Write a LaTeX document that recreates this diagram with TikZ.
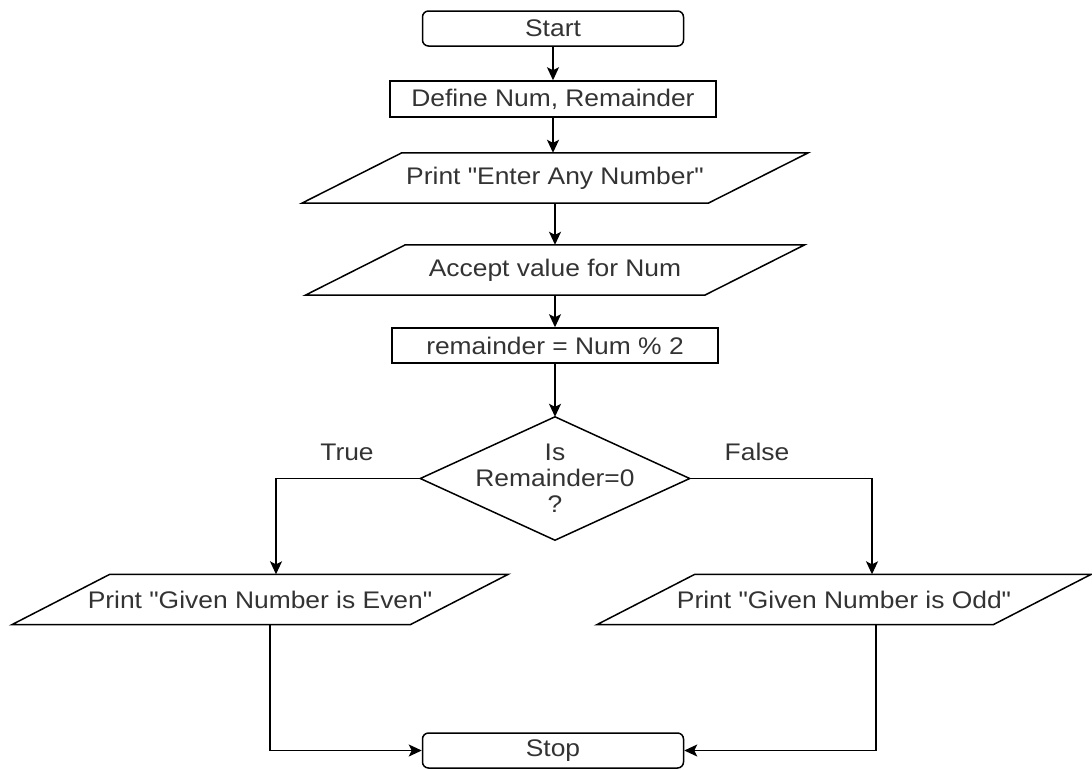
\documentclass[tikz,border=0pt]{standalone}
\usepackage{fontspec}
\setmainfont{Liberation Sans}[FakeStretch=1.1, Ligatures=TeXOff]
\usetikzlibrary{arrows.meta,calc}
\definecolor{txt}{HTML}{333333}
\tikzset{
  shp/.style={draw=black, line width=1.5pt},
  term/.style={shp, rounded corners=6pt, minimum width=261pt, minimum height=35pt, inner sep=0pt},
  proc/.style={shp, minimum width=326pt, minimum height=36pt, inner sep=0pt},
  iobox/.style={minimum height=50pt, inner sep=0pt},
  decbox/.style={minimum width=269pt, minimum height=123pt, inner sep=0pt, align=center},
  arr/.style={line width=1.5pt, -{Stealth[length=13pt,width=12pt,inset=3pt]}},
  lbl/.style={inner sep=0pt}
}
\newcommand{\drawio}[2]{%
  \draw[shp] ([xshift=#2]#1.north west) -- ([xshift=#2]#1.north east)
    -- ([xshift=-#2]#1.south east) -- ([xshift=-#2]#1.south west) -- cycle;}
\begin{document}
\begin{tikzpicture}[x=1pt,y=-1pt,every node/.style={text=txt, font=\fontsize{24}{26}\selectfont}]
\useasboundingbox (0,0) rectangle (1092,769);

\node[term] (start) at (553,28.5) {Start};
\node[proc] (def) at (553,99) {Define Num, Remainder};
\node[iobox, minimum width=406pt] (p1) at (555,178) {Print "Enter Any Number"};
\drawio{p1}{50pt}
\node[iobox, minimum width=399pt] (p2) at (555,270) {Accept value for Num};
\drawio{p2}{50pt}
\node[proc, minimum height=35pt] (rem) at (555,345.5) {remainder = Num \% 2};
\node[decbox] (d) at (555,478.5) {Is\\Remainder=0\\?};
\draw[shp] (d.north) -- (d.east) -- (d.south) -- (d.west) -- cycle;
\node[iobox, minimum width=398pt] (p3) at (260,599.5) {Print "Given Number is Even"};
\drawio{p3}{49pt}
\node[iobox, minimum width=396pt] (p4) at (844,599.5) {Print "Given Number is Odd"};
\drawio{p4}{49pt}
\node[term] (stop) at (553,750.5) {Stop};

\node[lbl] (tlab) at (347,452) {True};
\node[lbl] (flab) at (757,452) {False};

\draw[arr] (start.south) -- (start.south |- def.north);
\draw[arr] (def.south) -- (def.south |- p1.north);
\draw[arr] (p1.south) -- (p2.north);
\draw[arr] (p2.south) -- (rem.north);
\draw[arr] (rem.south) -- (d.north);
\draw[arr] (d.west) -| ($(p3.north)+(16,0)$);
\draw[arr] (d.east) -| ($(p4.north)+(28,0)$);
\draw[arr] ($(p3.south)+(10,0)$) |- (stop.west);
\draw[arr] ($(p4.south)+(32,0)$) |- (stop.east);
\end{tikzpicture}
\end{document}
